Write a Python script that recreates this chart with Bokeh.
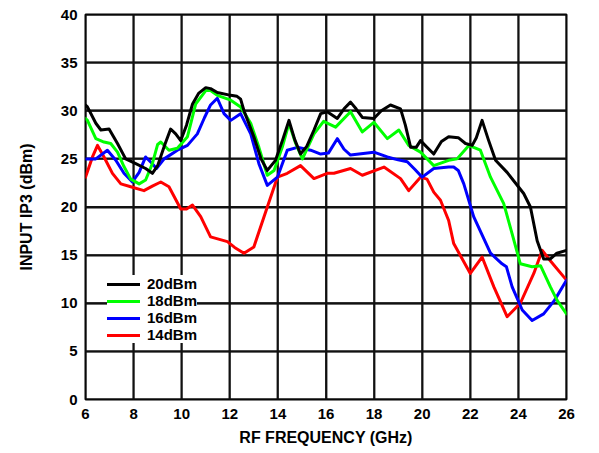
from bokeh.plotting import figure
from bokeh.models import Range1d, FixedTicker, Legend, LegendItem, Label
from bokeh.embed import file_html
from bokeh.resources import INLINE
import math

x_ticks = [6, 8, 10, 12, 14, 16, 18, 20, 22, 24, 26]
y_ticks = [0, 5, 10, 15, 20, 25, 30, 35, 40]

series_names = ["20dBm", "18dBm", "16dBm", "14dBm"]
series_colors = ["#000000", "#00FF00", "#0000FF", "#FF0000"]

x_20 = [6.0, 6.08, 6.43, 6.64, 6.98, 7.33, 7.67, 8.09, 8.5, 8.78, 9.0, 9.3, 9.54, 9.75, 9.96, 10.2, 10.45, 10.7, 11.0, 11.2, 11.48, 12.04, 12.3, 12.45, 12.59, 13.0, 13.3, 13.56, 13.9, 14.2, 14.46, 14.7, 14.94, 15.2, 15.5, 15.78, 16.05, 16.47, 16.75, 17.02, 17.25, 17.51, 17.99, 18.3, 18.68, 19.1, 19.3, 19.52, 19.75, 19.93, 20.2, 20.48, 20.8, 21.1, 21.5, 21.8, 22.08, 22.25, 22.49, 22.75, 23.05, 23.53, 24.22, 24.5, 24.78, 25.05, 25.33, 25.6, 26.0]
y_20 = [30.6, 30.4, 28.7, 28.0, 28.1, 26.6, 25.0, 24.5, 24.0, 23.5, 24.3, 26.5, 28.1, 27.6, 26.9, 28.5, 30.7, 31.8, 32.4, 32.3, 31.9, 31.6, 31.5, 31.2, 30.0, 27.3, 25.0, 23.8, 24.85, 27.0, 29.0, 27.0, 25.5, 26.3, 28.0, 29.7, 29.9, 29.2, 30.2, 30.9, 30.2, 29.3, 29.2, 30.0, 30.6, 30.2, 28.5, 26.2, 26.2, 26.9, 26.2, 25.5, 26.8, 27.3, 27.2, 26.6, 26.4, 27.2, 29.0, 27.0, 24.85, 23.6, 21.4, 20.0, 16.5, 14.6, 14.6, 15.2, 15.5]

x_18 = [6.0, 6.08, 6.43, 6.77, 7.05, 7.33, 7.6, 7.88, 8.23, 8.5, 8.78, 9.0, 9.13, 9.47, 9.82, 10.24, 10.58, 11.0, 11.2, 11.48, 12.04, 12.45, 12.87, 13.21, 13.56, 13.84, 14.18, 14.46, 14.74, 15.02, 15.5, 15.9, 16.4, 17.02, 17.51, 17.99, 18.55, 19.03, 19.44, 19.93, 20.48, 21.1, 21.45, 21.94, 22.42, 22.84, 23.39, 23.74, 24.08, 24.57, 24.92, 25.33, 25.61, 26.0]
y_18 = [29.2, 29.0, 27.1, 26.75, 26.6, 25.7, 24.2, 22.9, 22.4, 22.8, 24.5, 26.5, 26.75, 25.9, 26.1, 27.3, 30.7, 32.1, 32.1, 31.6, 31.1, 30.4, 28.7, 26.2, 23.3, 23.8, 26.2, 28.7, 26.6, 25.0, 27.6, 28.9, 28.3, 29.9, 27.8, 28.8, 27.1, 28.0, 26.4, 25.7, 24.3, 24.85, 25.0, 26.4, 25.9, 23.1, 20.35, 17.2, 14.1, 13.8, 13.9, 11.7, 10.3, 8.9]

x_16 = [6.0, 6.43, 6.91, 7.26, 7.6, 7.95, 8.23, 8.5, 8.78, 8.95, 9.27, 9.82, 10.24, 10.65, 10.95, 11.2, 11.48, 11.76, 12.04, 12.45, 12.87, 13.21, 13.56, 13.98, 14.39, 14.81, 15.36, 15.78, 16.1, 16.47, 16.75, 17.02, 17.99, 18.55, 19.0, 19.38, 19.7, 20.0, 20.48, 21.1, 21.31, 21.5, 21.73, 22.14, 22.84, 23.32, 23.5, 23.74, 24.16, 24.57, 25.05, 25.5, 26.0]
y_16 = [25.0, 25.0, 25.9, 24.85, 23.5, 22.6, 23.6, 25.2, 24.5, 24.0, 25.0, 25.9, 26.4, 27.6, 29.3, 30.6, 31.3, 29.7, 29.0, 29.7, 27.6, 24.5, 22.25, 23.1, 25.9, 26.2, 25.9, 25.5, 25.6, 27.1, 26.0, 25.4, 25.7, 25.2, 24.9, 24.7, 23.9, 23.1, 24.0, 24.15, 24.15, 23.8, 22.4, 19.0, 15.2, 14.1, 13.8, 11.7, 9.3, 8.2, 8.9, 10.3, 12.4]

x_14 = [6.0, 6.29, 6.5, 6.77, 7.12, 7.47, 7.88, 8.43, 8.8, 9.13, 9.47, 9.96, 10.2, 10.45, 10.79, 11.2, 11.9, 12.2, 12.59, 13.0, 13.56, 13.98, 14.39, 14.94, 15.5, 16.05, 16.33, 17.02, 17.51, 18.41, 19.1, 19.44, 19.93, 20.2, 20.48, 20.76, 21.1, 21.31, 22.0, 22.49, 22.98, 23.53, 24.08, 24.64, 24.99, 25.3, 26.0]
y_14 = [23.1, 25.2, 26.4, 25.2, 23.5, 22.4, 22.1, 21.7, 22.2, 22.6, 22.1, 19.8, 19.8, 20.2, 19.0, 16.9, 16.4, 15.8, 15.2, 15.85, 20.0, 23.1, 23.5, 24.3, 22.95, 23.5, 23.5, 24.0, 23.3, 24.15, 22.95, 21.7, 23.1, 22.9, 21.55, 20.7, 18.6, 16.2, 13.1, 14.8, 11.7, 8.6, 10.0, 13.1, 15.5, 14.5, 12.4]

FONT = "Liberation Sans"

p = figure(width=599, height=453, output_backend="svg", toolbar_location=None,
           x_range=Range1d(6, 26), y_range=Range1d(0, 40),
           min_border_left=85, min_border_right=33, min_border_top=14, min_border_bottom=54)

p.background_fill_color = "white"
p.border_fill_color = "white"
p.outline_line_color = "black"
p.outline_line_width = 2

for ax in (p.xaxis[0], p.yaxis[0]):
    ax.axis_line_color = None
    ax.major_tick_line_color = None
    ax.minor_tick_line_color = None
    ax.major_tick_in = 0
    ax.major_tick_out = 0
    ax.minor_tick_in = 0
    ax.minor_tick_out = 0
    ax.major_label_text_font = FONT
    ax.major_label_text_font_style = "bold"
    ax.major_label_text_font_size = "15px"
    ax.major_label_text_color = "black"
    ax.axis_label_text_font = FONT
    ax.axis_label_text_font_style = "bold"
    ax.axis_label_text_font_size = "16px"
    ax.axis_label_text_color = "black"

p.xaxis.ticker = FixedTicker(ticks=x_ticks)
p.yaxis.ticker = FixedTicker(ticks=y_ticks)
p.xaxis.axis_label = "RF FREQUENCY (GHz)"
p.yaxis.axis_label = "INPUT IP3 (dBm)"
p.xaxis.major_label_standoff = 9
p.yaxis.major_label_standoff = 8
p.xaxis.axis_label_standoff = 7
p.yaxis.axis_label_standoff = 23

p.xgrid.grid_line_color = "#111111"
p.ygrid.grid_line_color = "#111111"
p.xgrid.grid_line_width = 1.8
p.ygrid.grid_line_width = 1.8

# grid also as multi-point lines through every tick position
for t in x_ticks:
    p.line([t] * len(y_ticks), y_ticks, line_color="#111111", line_width=1.8,
           line_join="round", line_cap="round")
for t in y_ticks:
    p.line(x_ticks, [t] * len(x_ticks), line_color="#111111", line_width=1.8,
           line_join="round", line_cap="round")

data = {"20dBm": (x_20, y_20), "18dBm": (x_18, y_18), "16dBm": (x_16, y_16), "14dBm": (x_14, y_14)}
renderers = {}
for name, color in reversed(list(zip(series_names, series_colors))):
    xs, ys = data[name]
    r = p.line(xs, ys, line_color=color, line_width=3, line_join="round", line_cap="round")
    renderers[name] = r

legend = Legend(items=[LegendItem(label=n, renderers=[renderers[n]]) for n in series_names],
                location=(22, 56), orientation="vertical")
legend.label_text_font = FONT
legend.label_text_font_style = "bold"
legend.label_text_font_size = "15px"
legend.label_text_color = "black"
legend.glyph_width = 33
legend.glyph_height = 16
legend.label_height = 16
legend.label_standoff = 7
legend.spacing = 0
legend.padding = 4
legend.margin = 0
legend.border_line_color = None
legend.background_fill_color = "white"
legend.background_fill_alpha = 1.0
p.add_layout(legend, "center")

code = Label(x=508, y=-18, x_units="screen", y_units="screen", text="13645-096", angle=math.pi / 2,
             text_align="center", text_baseline="middle",
             text_font=FONT, text_font_size="11px", text_color="#555555")
p.add_layout(code)

open("out.html", "w").write(file_html(p, INLINE))
